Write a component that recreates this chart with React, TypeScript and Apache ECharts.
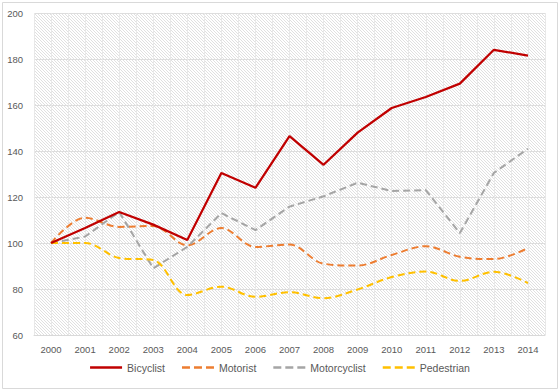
import React, { useEffect, useRef } from "react";
import * as echarts from "echarts";

const years = ["2000","2001","2002","2003","2004","2005","2006","2007","2008","2009","2010","2011","2012","2013","2014"];
const bicyclist = [100, 106.5, 113.5, 108, 101.3, 130.4, 124, 146.5, 134, 148, 158.7, 163.5, 169.3, 184, 181.5];
const motorist = [100, 111, 107, 107.4, 99, 106.5, 98.3, 99.3, 91, 90.2, 94.8, 98.6, 94, 93, 97.8];
const motorcyclist = [100, 102.8, 113.5, 89, 98.3, 113, 105.6, 115.8, 120.3, 126.2, 122.6, 123, 104.3, 130.5, 141];
const pedestrian = [100, 100, 93.5, 92.6, 77.4, 81, 76.6, 78.6, 76, 79.8, 85.2, 87.6, 83.5, 87.5, 82.6];

const seriesNames = ["Bicyclist", "Motorist", "Motorcyclist", "Pedestrian"];
const yTicks = { min: 60, max: 200, step: 20 };

const hatchSvg =
  "<svg xmlns='http://www.w3.org/2000/svg' width='3' height='3' shape-rendering='crispEdges'>" +
  "<rect x='0' y='0' width='3' height='3' fill='#ffffff'/>" +
  "<rect x='0' y='0' width='1' height='1' fill='#e0e0e0'/>" +
  "<rect x='1' y='1' width='1' height='1' fill='#e0e0e0'/>" +
  "<rect x='2' y='2' width='1' height='1' fill='#e0e0e0'/></svg>";
const hatchUrl = "data:image/svg+xml;charset=utf-8," + encodeURIComponent(hatchSvg);

const solidIcon = "path://M0,0h32v2.4H0z";
const dashIcon = "path://M0,0h8v2.4H0z M12,0h8v2.4h-8z M24,0h8v2.4h-8z";

export default function App() {
  const ref = useRef<HTMLDivElement>(null);
  useEffect(() => {
    if (!ref.current) return;
    const chart = echarts.init(ref.current, null, { renderer: "svg" });
    const font = "Liberation Sans";
    const textColor = "#595959";
    const dash = [7, 4];
    chart.setOption({
      animation: false,
      backgroundColor: "#ffffff",
      graphic: [
        {
          type: "rect",
          shape: { x: 2.5, y: 2.5, width: 555, height: 386 },
          style: { fill: "none", stroke: "#d9d9d9", lineWidth: 1 },
          silent: true,
          z: -1,
        },
      ],
      grid: {
        left: 34,
        right: 15,
        top: 13,
        bottom: 57,
        show: true,
        borderWidth: 0,
        backgroundColor: { image: hatchUrl, repeat: "repeat", imageWidth: 3, imageHeight: 3 } as any,
      },
      legend: {
        data: [
          { name: seriesNames[0], icon: solidIcon },
          { name: seriesNames[1], icon: dashIcon },
          { name: seriesNames[2], icon: dashIcon },
          { name: seriesNames[3], icon: dashIcon },
        ],
        bottom: 14,
        left: "center",
        itemWidth: 32,
        itemHeight: 2.4,
        itemGap: 17,
        textStyle: { color: textColor, fontFamily: font, fontSize: 10.5 },
      },
      xAxis: [
        {
          type: "category",
          data: years,
          boundaryGap: true,
          axisLine: { show: true, lineStyle: { color: "#d9d9d9", width: 1 } },
          axisTick: { show: false },
          axisLabel: { color: textColor, fontFamily: font, fontSize: 9.5, margin: 9, interval: 0 },
          splitLine: { show: false },
        },
        {
          type: "value",
          min: 0,
          max: 30,
          interval: 1,
          show: true,
          position: "bottom",
          axisLine: { show: false },
          axisTick: { show: false },
          axisLabel: { show: false },
          splitLine: { show: true, lineStyle: { color: "#e8e8e8", width: 1 } },
        },
      ],
      yAxis: {
        type: "value",
        min: yTicks.min,
        max: yTicks.max,
        interval: yTicks.step,
        axisLine: { show: false },
        axisTick: { show: false },
        axisLabel: { color: textColor, fontFamily: font, fontSize: 9.5, margin: 11 },
        splitLine: { show: true, lineStyle: { color: "#dddddd", width: 1 } },
      },
      series: [
        {
          name: seriesNames[0],
          type: "line",
          data: bicyclist,
          symbol: "none",
          lineStyle: { color: "#c00000", width: 2.25 },
          itemStyle: { color: "#c00000" },
          z: 5,
        },
        {
          name: seriesNames[1],
          type: "line",
          data: motorist,
          symbol: "none",
          smooth: 0.35,
          lineStyle: { color: "#ed7d31", width: 2, type: dash },
          itemStyle: { color: "#ed7d31" },
        },
        {
          name: seriesNames[2],
          type: "line",
          data: motorcyclist,
          symbol: "none",
          lineStyle: { color: "#a5a5a5", width: 2, type: dash },
          itemStyle: { color: "#a5a5a5" },
        },
        {
          name: seriesNames[3],
          type: "line",
          data: pedestrian,
          symbol: "none",
          smooth: 0.35,
          lineStyle: { color: "#ffc000", width: 2, type: dash },
          itemStyle: { color: "#ffc000" },
        },
      ],
    });
    return () => chart.dispose();
  }, []);
  return (
    <div
      ref={ref}
      style={{ position: "fixed", left: 0, top: 0, width: 560, height: 392 }}
    />
  );
}
